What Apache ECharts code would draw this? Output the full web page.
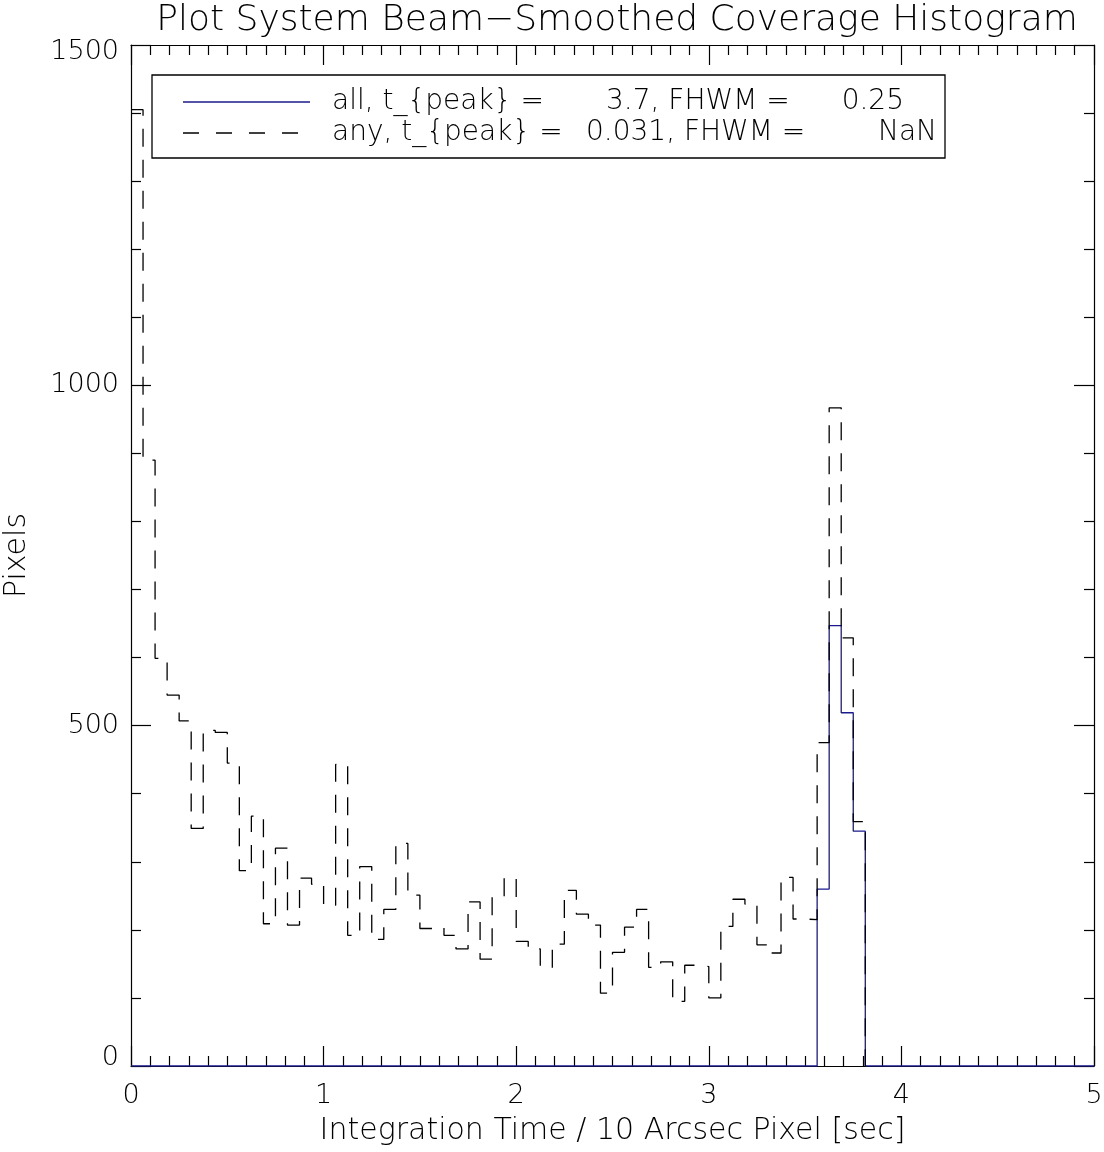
<!DOCTYPE html>
<html>
<head>
<meta charset="utf-8">
<script src="https://cdn.jsdelivr.net/npm/echarts@6/dist/echarts.min.js"></script>
<style>
html,body{margin:0;padding:0;background:#fff;overflow:hidden;}
#chart{width:1104px;height:1152px;}
</style>
</head>
<body>
<div id="chart"></div>
<script>
// ---- data ----
const titleText = 'Plot System Beam\u2212Smoothed Coverage Histogram';
const xAxisName = 'Integration Time / 10 Arcsec Pixel [sec]';
const yAxisName = 'Pixels';
const xTicks = [0, 1, 2, 3, 4, 5];
const yTicks = [0, 500, 1000, 1500];
const binWidth = 0.0625;           // histogram bin width [sec]
// "any" histogram counts, bin 0 starting at 0 sec (ends at bin 61)
const anyCounts = [1405, 890, 599, 545, 507, 349, 493, 490, 445, 287,
                   367, 209, 320, 207, 276, 267, 236, 443, 192, 293,
                   186, 230, 327, 251, 202, 204, 192, 172, 241, 157,
                   248, 276, 183, 172, 145, 179, 258, 223, 207, 107,
                   167, 204, 230, 145, 153, 95, 148, 146, 100, 205,
                   245, 238, 178, 166, 277, 216, 215, 475, 967, 629,
                   359, 0];
// "all" histogram counts, bins 0..79 (0 to 5 sec)
const allCounts = [0, 0, 0, 0, 0, 0, 0, 0, 0, 0,
                   0, 0, 0, 0, 0, 0, 0, 0, 0, 0,
                   0, 0, 0, 0, 0, 0, 0, 0, 0, 0,
                   0, 0, 0, 0, 0, 0, 0, 0, 0, 0,
                   0, 0, 0, 0, 0, 0, 0, 0, 0, 0,
                   0, 0, 0, 0, 0, 0, 0, 260, 647, 519,
                   345, 0, 0, 0, 0, 0, 0, 0, 0, 0,
                   0, 0, 0, 0, 0, 0, 0, 0, 0, 0, 0];
const legendAll = ['all, t_{peak} =', '3.7, FHWM =', '0.25'];
const legendAny = ['any, t_{peak} =', '0.031, FHWM =', 'NaN'];

// ---- build ----
function stepData(counts) {
  return counts.map((c, i) => [i * binWidth, c]);
}
const FONT = 'DejaVu Sans';
const WEIGHT = 200;
const NAVY = '#1a1a8e';
const lineBlack = {color: '#000', width: 1.2};

const axisCommonX = {
  type: 'value', min: xTicks[0], max: xTicks[xTicks.length - 1], interval: 1,
  axisLine: {show: true, onZero: false, lineStyle: lineBlack},
  axisTick: {show: true, inside: true, length: 20, lineStyle: lineBlack},
  minorTick: {show: true, splitNumber: 10, length: 10, lineStyle: lineBlack},
  splitLine: {show: false}, minorSplitLine: {show: false}
};
const axisCommonY = {
  type: 'value', min: yTicks[0], max: yTicks[yTicks.length - 1], interval: 500,
  axisLine: {show: true, onZero: false, lineStyle: lineBlack},
  axisTick: {show: true, inside: true, length: 20, lineStyle: lineBlack},
  minorTick: {show: true, splitNumber: 5, length: 10, lineStyle: lineBlack},
  splitLine: {show: false}, minorSplitLine: {show: false}
};
const labelText = {fontFamily: FONT, fontWeight: WEIGHT, fontSize: 27, color: '#000'};

const chart = echarts.init(document.getElementById('chart'), null, {renderer: 'canvas'});
const legendFont = WEIGHT + ' 28px "' + FONT + '"';
chart.setOption({
  animation: false,
  backgroundColor: '#fff',
  title: {
    text: titleText, left: 612, top: -2, textAlign: 'center',
    textStyle: {fontFamily: FONT, fontSize: 36, fontWeight: WEIGHT, color: '#000'}
  },
  grid: {left: 131, right: 10, top: 45, bottom: 86, containLabel: false, outerBoundsMode: 'none'},
  xAxis: [
    Object.assign({}, axisCommonX, {
      position: 'bottom',
      name: xAxisName, nameLocation: 'middle', nameGap: 50,
      nameTextStyle: {fontFamily: FONT, fontWeight: WEIGHT, fontSize: 30, color: '#000'},
      axisLabel: Object.assign({show: true, margin: 16}, labelText)
    }),
    Object.assign({}, axisCommonX, {position: 'top', axisLabel: {show: false}})
  ],
  yAxis: [
    Object.assign({}, axisCommonY, {
      position: 'left',
      name: yAxisName, nameLocation: 'middle', nameGap: 99, nameRotate: 90,
      nameTextStyle: {fontFamily: FONT, fontWeight: WEIGHT, fontSize: 30, color: '#000'},
      axisLabel: Object.assign({
        show: true, margin: 12,
        formatter: function (v) {
          if (v === yTicks[yTicks.length - 1]) return '{top|' + v + '}';
          if (v === yTicks[0]) return '{bot|' + v + '}';
          return String(v);
        },
        rich: {
          top: Object.assign({padding: [14, 0, 0, 0]}, labelText),
          bot: Object.assign({padding: [0, 0, 16, 0]}, labelText)
        }
      }, labelText)
    }),
    Object.assign({}, axisCommonY, {position: 'right', axisLabel: {show: false}})
  ],
  series: [
    {
      name: 'all', type: 'line', step: 'end', symbol: 'none',
      data: stepData(allCounts),
      lineStyle: {color: NAVY, width: 1.3}, z: 3
    },
    {
      name: 'any', type: 'line', step: 'end', symbol: 'none',
      data: stepData(anyCounts),
      lineStyle: {color: '#000', width: 1.3, type: [18, 13]}, z: 4
    }
  ],
  graphic: [
    {type: 'rect', shape: {x: 152, y: 75, width: 793, height: 83},
     style: {fill: '#fff', stroke: '#000', lineWidth: 1.3}, z: 10},
    {type: 'line', shape: {x1: 183, y1: 102, x2: 310, y2: 102},
     style: {stroke: NAVY, lineWidth: 1.3}, z: 11},
    {type: 'line', shape: {x1: 183, y1: 133, x2: 300, y2: 133},
     style: {stroke: '#000', lineWidth: 1.3, lineDash: [16, 17]}, z: 11},
    {type: 'text', x: 332, y: 102, z: 11, style: {text: legendAll[0], font: legendFont, fill: '#000', verticalAlign: 'middle'}},
    {type: 'text', x: 606, y: 102, z: 11, style: {text: legendAll[1], font: legendFont, fill: '#000', verticalAlign: 'middle'}},
    {type: 'text', x: 904, y: 102, z: 11, style: {text: legendAll[2], font: legendFont, fill: '#000', verticalAlign: 'middle', align: 'right'}},
    {type: 'text', x: 332, y: 133, z: 11, style: {text: legendAny[0], font: legendFont, fill: '#000', verticalAlign: 'middle'}},
    {type: 'text', x: 586, y: 133, z: 11, style: {text: legendAny[1], font: legendFont, fill: '#000', verticalAlign: 'middle'}},
    {type: 'text', x: 937, y: 133, z: 11, style: {text: legendAny[2], font: legendFont, fill: '#000', verticalAlign: 'middle', align: 'right'}}
  ]
});
</script>
</body>
</html>
